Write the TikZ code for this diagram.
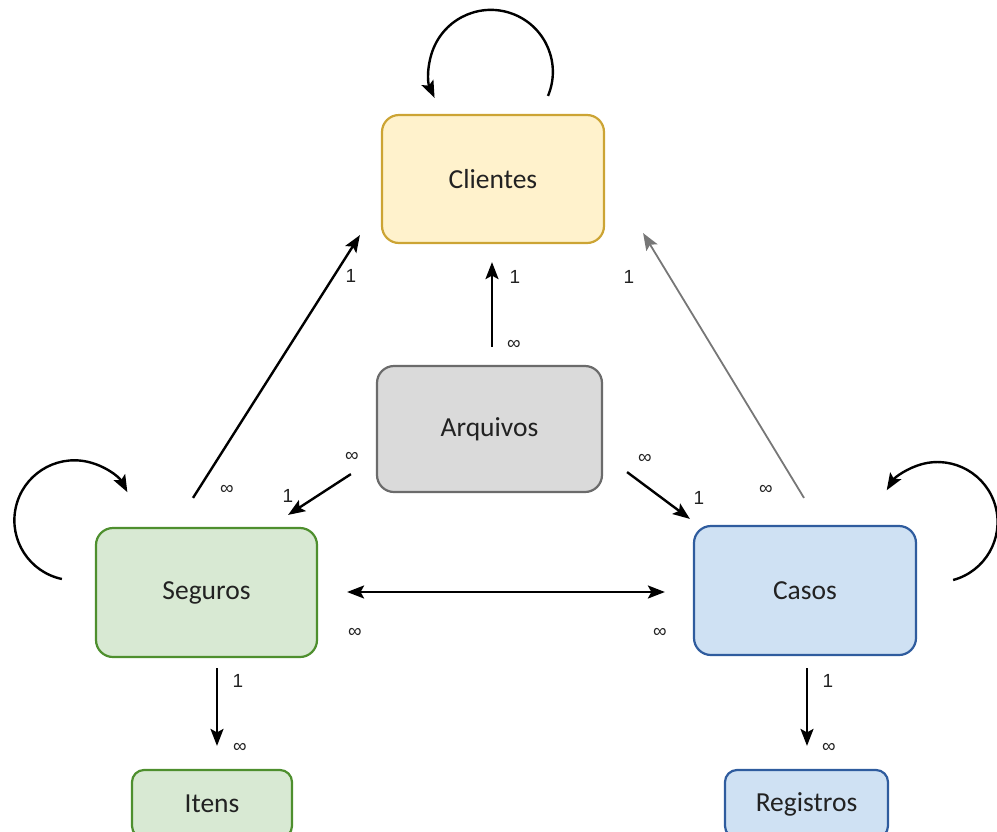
\documentclass[tikz,border=0pt]{standalone}
\usepackage{fontspec}
\setmainfont{Carlito}
\newfontfamily\labelfont{Liberation Sans}
\usetikzlibrary{arrows.meta}

\definecolor{cliFill}{HTML}{FFF2CC}
\definecolor{cliLine}{HTML}{CCA434}
\definecolor{arqFill}{HTML}{DADADA}
\definecolor{arqLine}{HTML}{6B6B6B}
\definecolor{segFill}{HTML}{D8E9D3}
\definecolor{segLine}{HTML}{4E8F2E}
\definecolor{casFill}{HTML}{CFE1F3}
\definecolor{casLine}{HTML}{2F5C9E}
\definecolor{txt}{HTML}{222222}
\definecolor{softArrow}{HTML}{777777}

\tikzset{
  entity/.style={rectangle, rounded corners=17pt, line width=2.2pt, text=txt,
    font=\fontsize{27.5}{32}\selectfont, inner sep=0pt},
  smallentity/.style={entity, rounded corners=12pt},
  tip/.tip={Stealth[length=17pt,width=13pt,inset=3.5pt]},
  rel/.style={line width=2.4pt, -tip},
  relboth/.style={line width=2.4pt, tip-tip},
  relsoft/.style={line width=1.8pt, draw=softArrow, -{Stealth[length=17pt,width=13pt,inset=3.5pt,fill=softArrow]}},
  card/.style={font=\labelfont\fontsize{19}{21}\selectfont, text=txt, inner sep=0pt}
}

\begin{document}
\begin{tikzpicture}[x=1pt,y=1pt]
  \clip (0,0) rectangle (997,-831);

  % entities
  \node[entity, fill=cliFill, draw=cliLine, minimum width=222pt, minimum height=128pt] (cli) at (493,-179) {Clientes};
  \node[entity, fill=arqFill, draw=arqLine, minimum width=225pt, minimum height=126pt] (arq) at (489.5,-429) {Arquivos};
  \node[entity, fill=segFill, draw=segLine, minimum width=221pt, minimum height=129pt] (seg) at (206.5,-592.5) {Seguros};
  \node[entity, fill=casFill, draw=casLine, minimum width=222pt, minimum height=129pt] (cas) at (805,-590.5) {Casos};
  \node[smallentity, fill=segFill, draw=segLine, minimum width=160pt, minimum height=68pt] (ite) at (212,-804) {Itens};
  \node[smallentity, fill=casFill, draw=casLine, minimum width=163pt, minimum height=68pt] (reg) at (806.5,-804) {Registros};

  % self relations
  \draw[rel] ([shift={(55,18)}]cli.north) arc[start angle=-22.8, end angle=204.8, radius=62];
  \draw[rel] ([shift={(-33,13.5)}]seg.west) arc[start angle=258, end angle=28, radius=60];
  \draw[rel] ([shift={(36,10.5)}]cas.east) arc[start angle=-75, end angle=148, radius=60];

  % relations to Clientes
  \draw[rel] ([shift={(-13.5,29)}]seg.north) -- ([shift={(-21,9)}]cli.south west);
  \draw[rel] ([shift={(2.5,18)}]arq.north) -- ([shift={(-1,-18)}]cli.south);
  \draw[relsoft] ([shift={(-1,27)}]cas.north) -- ([shift={(38,11)}]cli.south east);

  % relations from Arquivos
  \draw[rel] ([shift={(-25,19)}]arq.south west) -- ([shift={(-30,12)}]seg.north east);
  \draw[rel] ([shift={(24,21)}]arq.south east) -- ([shift={(-3,6)}]cas.north west);

  % Seguros <-> Casos
  \draw[relboth] ([shift={(29,0.5)}]seg.east) -- ([shift={(-28,-1.5)}]cas.west);

  % detail tables
  \draw[rel] ([shift={(10.5,-10)}]seg.south) -- ([shift={(5,23)}]ite.north);
  \draw[rel] ([shift={(2,-12)}]cas.south) -- ([shift={(0.5,23)}]reg.north);

  % cardinalities
  \node[card] (c1) at (351,-276) {1};
  \node[card] (c2) at (227,-490) {∞};
  \node[card] (c3) at (515,-277) {1};
  \node[card] (c4) at (514,-345) {∞};
  \node[card] (c5) at (629,-277) {1};
  \node[card] (c6) at (766,-490) {∞};
  \node[card] (c7) at (352,-457) {∞};
  \node[card] (c8) at (288,-496) {1};
  \node[card] (c9) at (645,-459) {∞};
  \node[card] (c10) at (699,-498) {1};
  \node[card] (c11) at (355,-633) {∞};
  \node[card] (c12) at (660,-633) {∞};
  \node[card] (c13) at (238,-681) {1};
  \node[card] (c14) at (240,-748) {∞};
  \node[card] (c15) at (828,-681) {1};
  \node[card] (c16) at (829,-748) {∞};
\end{tikzpicture}
\end{document}
